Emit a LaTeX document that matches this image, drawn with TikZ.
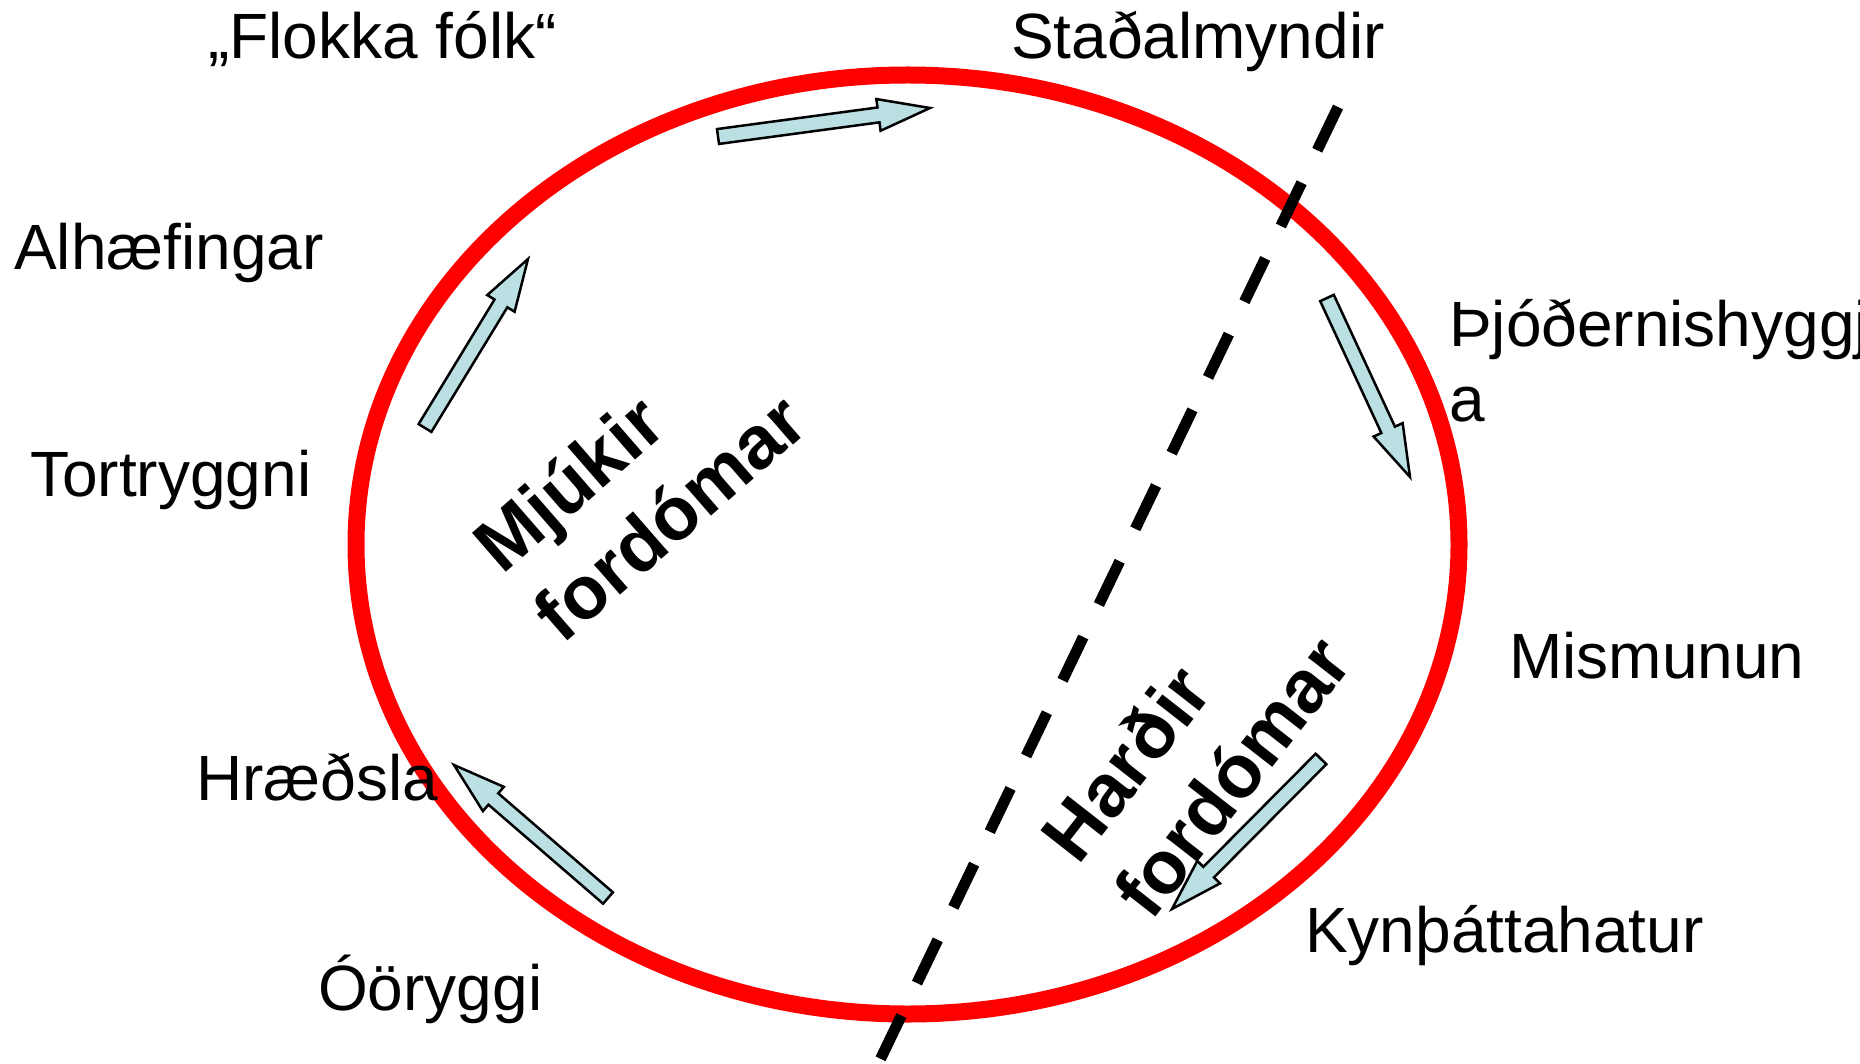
\documentclass[tikz,border=0pt]{standalone}
\usepackage{fontspec}
\setmainfont{Liberation Sans}
\usetikzlibrary{calc}
\definecolor{ringred}{RGB}{255,0,0}
\definecolor{arrowfill}{RGB}{187,224,227}
\tikzset{
  lbl/.style={anchor=base west, inner sep=0pt, font=\fontsize{64}{75}\selectfont},
  boldlbl/.style={inner sep=0pt, align=left, font=\fontsize{75}{92}\selectfont\bfseries},
  ring/.style={draw=ringred, line width=17pt},
  divider/.style={draw=black, line width=11pt, dash pattern=on 48pt off 36pt},
  barrow/.style={fill=arrowfill, draw=black, line width=2.5pt, line join=miter},
}
% block arrow from tail coordinate #1 to tip coordinate #2
\newcommand\bluearrow[2]{%
  \coordinate (#1h) at ($(#2)!52pt!(#1)$);
  \path[barrow]
    ($(#1)!7.5pt!90:(#2)$) -- ($(#1h)!7.5pt!90:(#2)$) -- ($(#1h)!16pt!90:(#2)$)
    -- (#2)
    -- ($(#1h)!16pt!-90:(#2)$) -- ($(#1h)!7.5pt!-90:(#2)$) -- ($(#1)!7.5pt!-90:(#2)$)
    -- cycle;
}
\begin{document}
\begin{tikzpicture}[x=1pt,y=-1pt]
\useasboundingbox (0,0) rectangle (1860,1064);
\clip (0,0) rectangle (1860,1064);
\fill[white] (0,0) rectangle (1860,1064);

% ring
\coordinate (c) at (907.5,544.5);
\draw[ring] (c) ellipse [x radius=551.5, y radius=469.5];

% divider
\coordinate (d1) at (1338,107);
\coordinate (d2) at (880,1060);
\draw[divider] (d1) -- (d2);

% arrows
\coordinate (a1) at (718,136.5); \coordinate (b1) at (930,108);
\coordinate (a2) at (425,428);   \coordinate (b2) at (528,259);
\coordinate (a3) at (1327,298);  \coordinate (b3) at (1410,477);
\coordinate (a4) at (1321,759);  \coordinate (b4) at (1172,909);
\coordinate (a5) at (608,898);   \coordinate (b5) at (454,765);
\bluearrow{a1}{b1}
\bluearrow{a2}{b2}
\bluearrow{a3}{b3}
\bluearrow{a4}{b4}
\bluearrow{a5}{b5}

% labels
\node[lbl] (flokka) at (208,59) {„Flokka fólk“};
\node[lbl] (stad) at (1011,59) {Staðalmyndir};
\node[lbl] (alh) at (14,270) {Alhæfingar};
\node[lbl] (tort) at (30,496) {Tortryggni};
\node[lbl, align=left] (thjod) at (1449,421) {Þjóðernishyggj\\a};
\node[lbl] (mism) at (1509,678) {Mismunun};
\node[lbl] (hraed) at (196,800) {Hræðsla};
\node[lbl] (kyn) at (1305,952) {Kynþáttahatur};
\node[lbl] (oor) at (318,1010) {Óöryggi};

\node[boldlbl, rotate=41] (soft) at (639,482) {Mjúkir\\fordómar};
\node[boldlbl, rotate=52] (hard) at (1195,748) {Harðir\\fordómar};
\end{tikzpicture}
\end{document}
